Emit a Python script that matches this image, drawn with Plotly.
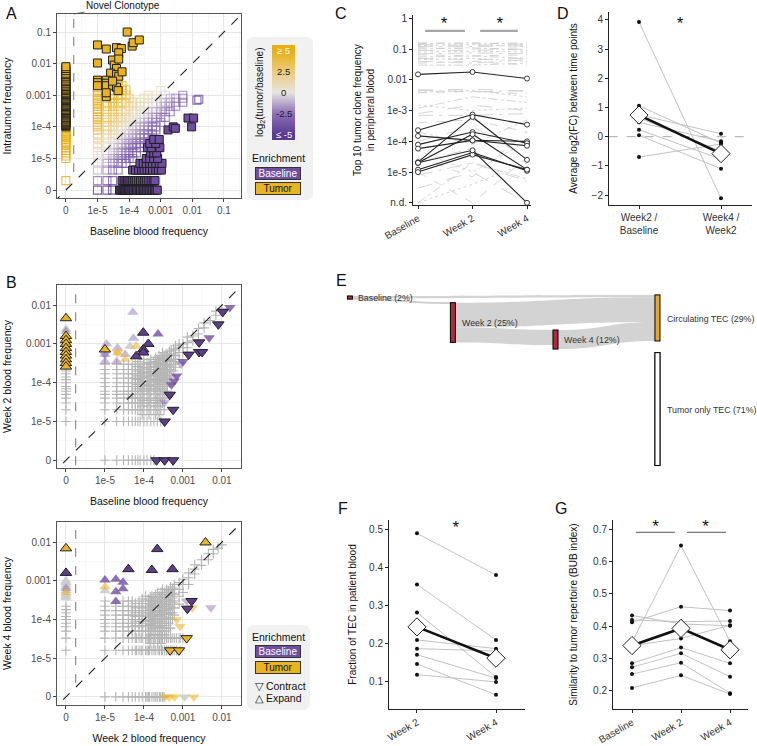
import numpy as np
import plotly.graph_objects as go

W, H = 757, 746
FONT = "Liberation Sans, Arial, Helvetica, sans-serif"
GOLD = "#E9B321"
PURPLE = "#6F4DA0"
RED = "#B22B3D"
ORANGE = "#E6A82A"
ZERO_POS = 1e-6            # where a frequency of 0 / n.d. is drawn on the log axes
NOVEL_CUT = 10 ** -5.75    # novel-clonotype threshold line

# ---------------- Panel A : baseline blood vs intratumor ----------------
A_TICKVALS = [1e-6, 1e-5, 1e-4, 1e-3, 1e-2, 1e-1]
A_TICKTEXT = ["0", "1e-5", "1e-4", "0.001", "0.01", "0.1"]
A_CBAR_TICKS = [5, 2.5, 0, -2.5, -5]
A_CBAR_TEXT = ["≥ 5", "2.5", "0", "-2.5", "≤ -5"]
A_NOVEL_SIG_Y = [1.0e-4, 1.1e-4, 1.2e-4, 1.3e-4, 1.4e-4, 1.5e-4, 1.65e-4, 1.8e-4, 2.0e-4,
                 2.2e-4, 2.4e-4, 2.6e-4, 2.8e-4, 3.0e-4, 3.3e-4, 3.6e-4, 4.0e-4, 4.4e-4,
                 4.8e-4, 5.2e-4, 5.7e-4, 6.2e-4, 6.8e-4, 7.4e-4, 8.0e-4, 8.8e-4, 9.6e-4,
                 1.05e-3, 1.15e-3, 1.25e-3, 1.4e-3, 1.55e-3, 1.7e-3, 1.9e-3, 2.1e-3, 2.4e-3,
                 2.7e-3, 3.0e-3, 3.5e-3, 4.0e-3, 4.5e-3, 5.0e-3, 6.0e-3, 7.0e-3, 8.0e-3]
A_OPEN_NOVEL_Y = [2e-6, 1.0e-5, 1.2e-5, 1.5e-5, 1.8e-5, 2.2e-5, 2.6e-5, 3.0e-5, 3.5e-5, 4.0e-5,
                  4.5e-5, 5.0e-5, 5.5e-5, 6.0e-5, 6.5e-5, 7.0e-5, 8.0e-5, 9.0e-5]
A_TUMOR_SIG = [(1.0e-5, 0.039), (1.9e-5, 0.029), (4.0e-5, 0.032), (5.7e-5, 0.030), (8.7e-5, 0.10),
               (1.25e-4, 0.036), (1.35e-4, 0.046), (2.1e-4, 0.056), (4.7e-5, 0.022), (3.0e-5, 0.013),
               (3.4e-5, 0.009), (1.0e-5, 0.0105), (4.7e-5, 0.014), (4.0e-5, 0.007), (2.6e-5, 0.005),
               (4.0e-5, 0.0045), (4.7e-5, 0.004), (1.9e-5, 0.003), (1.9e-5, 0.0024), (1.9e-5, 0.002),
               (3.0e-5, 0.002), (4.0e-5, 0.0018), (4.5e-5, 0.0014), (1.9e-5, 0.0009), (1.9e-5, 0.0012),
               (1.0e-5, 0.003), (1.0e-5, 0.0025), (1.0e-5, 0.002), (3.0e-5, 0.0028), (6.0e-5, 0.0055)]
A_BASE_SIG_ROWS = [
    (0, [5e-5, 5.5e-5, 6e-5, 6.5e-5, 7e-5, 7.5e-5, 8e-5, 8.7e-5, 9.5e-5, 1.05e-4, 1.15e-4, 1.25e-4,
         1.4e-4, 1.55e-4, 1.7e-4, 1.9e-4, 2.1e-4, 2.3e-4, 2.6e-4, 2.9e-4, 3.2e-4, 3.6e-4, 4e-4,
         4.5e-4, 5e-4, 5.6e-4, 6.3e-4, 7e-4, 7.8e-4]),
    (2e-6, [6e-5, 7e-5, 8e-5, 9e-5, 1e-4, 1.15e-4, 1.3e-4, 1.5e-4, 1.7e-4, 2e-4, 2.3e-4, 2.7e-4,
            3.1e-4, 3.6e-4, 4.2e-4, 5e-4, 5.8e-4, 6.6e-4]),
    (4.3e-6, [1.3e-4, 1.6e-4, 2e-4, 2.5e-4, 3e-4, 3.7e-4, 4.5e-4, 5.5e-4, 7e-4, 8.5e-4, 1.05e-3]),
    (7e-6, [2.2e-4, 2.8e-4, 3.5e-4, 4.5e-4, 5.5e-4, 7e-4, 9e-4, 1.1e-3]),
    (1e-5, [3.5e-4, 4.5e-4, 6e-4, 8e-4]),
    (1.5e-5, [4.7e-4, 6e-4, 7.5e-4]),
    (2.2e-5, [3.8e-4, 5e-4, 9.4e-4]),
    (3e-5, [4.5e-4, 7e-4]),
]
A_BASE_SIG_PTS = [(6e-4, 4e-5), (9e-4, 4e-5), (1.7e-3, 8e-5), (2.5e-3, 1e-4), (2.9e-3, 9e-5),
                  (7.3e-3, 1.9e-4), (1.1e-2, 1.9e-4), (9.5e-3, 1e-4)]
A_OPEN_COLS = [
    (1e-5, [0, 2e-6, 4.3e-6, 7e-6, 1e-5, 1.5e-5, 2.2e-5, 3e-5, 4.5e-5, 6e-5, 8e-5, 1e-4, 1.2e-4,
            1.4e-4, 1.7e-4, 2e-4, 2.5e-4, 3e-4, 3.7e-4, 4.5e-4, 5.2e-4, 6e-4, 7e-4, 8e-4, 1e-3,
            1.2e-3, 1.4e-3, 1.7e-3]),
    (2e-5, [0, 2e-6, 4.3e-6, 7e-6, 1e-5, 1.5e-5, 2.2e-5, 3e-5, 4.5e-5, 6e-5, 8e-5, 1e-4, 1.4e-4,
            2e-4, 3e-4, 4.5e-4, 6e-4]),
    (3e-5, [0, 2e-6, 4.3e-6, 7e-6, 1e-5, 1.5e-5, 2.2e-5, 3e-5, 4.5e-5, 6e-5, 8e-5, 1e-4, 1.4e-4,
            2e-4, 3e-4, 4.5e-4, 6e-4, 8e-4, 1e-3, 1.4e-3]),
    (4.5e-5, [4.3e-6, 7e-6, 1e-5, 1.5e-5, 2.2e-5, 3e-5, 4.5e-5, 6e-5, 8e-5, 1e-4, 1.4e-4, 2e-4,
              3e-4, 4.5e-4, 6e-4, 8e-4, 1e-3, 2e-3, 3e-3]),
    (6e-5, [7e-6, 1e-5, 1.5e-5, 2.2e-5, 3e-5, 4.5e-5, 6e-5, 8e-5, 1e-4, 1.4e-4, 2e-4, 3e-4, 6e-4,
            1e-3, 1.4e-3, 2e-3]),
    (8e-5, [7e-6, 1e-5, 1.5e-5, 2.2e-5, 3e-5, 4.5e-5, 6e-5, 8e-5, 1e-4, 1.4e-4, 2e-4, 3e-4, 6e-4,
            1e-3, 1.5e-3]),
    (1e-4, [1e-5, 1.5e-5, 2.2e-5, 3e-5, 4.5e-5, 6e-5, 8e-5, 1e-4, 1.4e-4, 2e-4, 4.5e-4, 8e-4]),
    (1.3e-4, [1e-5, 1.5e-5, 2.2e-5, 3e-5, 4.5e-5, 6e-5, 8e-5, 1e-4, 1.4e-4, 2e-4, 3e-4, 6e-4]),
    (1.7e-4, [1.5e-5, 2.2e-5, 3e-5, 4.5e-5, 6e-5, 8e-5, 1e-4, 1.4e-4, 2e-4, 3e-4, 4.5e-4]),
    (2.2e-4, [2.2e-5, 3e-5, 4.5e-5, 6e-5, 8e-5, 1e-4, 1.4e-4, 2e-4, 3e-4, 4.5e-4, 6e-4]),
    (3e-4, [3e-5, 4.5e-5, 6e-5, 8e-5, 1e-4, 1.4e-4, 2e-4, 3e-4, 4.5e-4, 8e-4]),
    (4e-4, [4.5e-5, 6e-5, 8e-5, 1e-4, 1.4e-4, 2e-4, 3e-4, 6e-4, 1e-3]),
    (5.5e-4, [6e-5, 8e-5, 1e-4, 1.4e-4, 2e-4, 3e-4, 4.5e-4, 8e-4]),
    (7e-4, [8e-5, 1e-4, 1.4e-4, 2e-4, 3e-4, 6e-4, 1e-3]),
    (1e-3, [1.4e-4, 2e-4, 3e-4, 4.5e-4, 6e-4, 1.4e-3]),
    (1.4e-3, [2e-4, 3e-4, 4.5e-4, 6e-4, 1e-3]),
    (2e-3, [3e-4, 4.5e-4, 6e-4, 8e-4]),
    (3e-3, [4.5e-4, 6e-4, 8e-4]),
    (5e-3, [6e-4, 8e-4, 1e-3]),
    (1.4e-2, [7e-4]),
    (1.6e-2, [7.5e-4]),
]

# ---------------- Panel B : blood-to-blood comparisons ----------------
B_TICKVALS = [1e-6, 1e-5, 1e-4, 1e-3, 1e-2]
B_TICKTEXT = ["0", "1e-5", "1e-4", "0.001", "0.01"]
B1_GREY_COLS = [
    (0, [1e-5, 2e-5, 3e-5, 4e-5, 5e-5, 6e-5, 7e-5, 8e-5, 1e-4, 1.2e-4, 1.4e-4, 1.7e-4, 2e-4]),
    (1e-5, [0, 1e-5, 2e-5, 3e-5, 4e-5, 5e-5, 6e-5, 8e-5, 1e-4, 1.3e-4, 1.7e-4, 2.2e-4, 3e-4]),
    (2e-5, [0, 1e-5, 2e-5, 3e-5, 4e-5, 5e-5, 6e-5, 8e-5, 1e-4, 1.3e-4, 1.7e-4, 2.2e-4, 3e-4]),
    (3e-5, [0, 1e-5, 2e-5, 3e-5, 4e-5, 5e-5, 6e-5, 8e-5, 1e-4, 1.3e-4, 1.7e-4, 2.2e-4, 3e-4]),
    (4e-5, [0, 1e-5, 2e-5, 3e-5, 4e-5, 5e-5, 6e-5, 8e-5, 1e-4, 1.3e-4, 1.7e-4, 2.2e-4, 3e-4]),
    (5e-5, [0, 1e-5, 2e-5, 3e-5, 4e-5, 5e-5, 6e-5, 8e-5, 1e-4, 1.3e-4, 1.7e-4, 2.2e-4, 3e-4]),
    (6e-5, [0, 1e-5, 2e-5, 3e-5, 4e-5, 6e-5, 8e-5, 1e-4, 1.3e-4, 1.7e-4, 2.2e-4, 3e-4]),
    (7e-5, [0, 1e-5, 2e-5, 3e-5, 5e-5, 7e-5, 9e-5, 1.2e-4, 1.5e-4, 2e-4, 2.6e-4, 3.5e-4]),
    (8e-5, [0, 1e-5, 2e-5, 3e-5, 4e-5, 6e-5, 8e-5, 1e-4, 1.3e-4, 1.7e-4, 2.2e-4, 3e-4]),
    (9e-5, [1.5e-5, 2.5e-5, 3.5e-5, 5e-5, 7e-5, 9e-5, 1.1e-4, 1.4e-4, 1.9e-4, 2.5e-4]),
    (1e-4, [0, 1e-5, 2e-5, 3e-5, 4e-5, 6e-5, 8e-5, 1e-4, 1.3e-4, 1.7e-4, 2.2e-4, 3e-4, 4e-4]),
    (1.2e-4, [0, 1e-5, 2e-5, 3e-5, 5e-5, 7e-5, 9e-5, 1.1e-4, 1.4e-4, 1.8e-4, 2.4e-4, 3.2e-4]),
    (1.35e-4, [1.5e-5, 2.5e-5, 3.5e-5, 5e-5, 6.5e-5, 8.5e-5, 1.1e-4, 1.5e-4, 1.9e-4, 2.5e-4, 3.3e-4]),
    (1.5e-4, [0, 1e-5, 2e-5, 3e-5, 4e-5, 6e-5, 8e-5, 1e-4, 1.3e-4, 1.7e-4, 2.2e-4, 3e-4, 4e-4]),
    (1.8e-4, [0, 1e-5, 2e-5, 3e-5, 5e-5, 7e-5, 9e-5, 1.2e-4, 1.6e-4, 2e-4, 2.6e-4, 3.5e-4]),
    (2.0e-4, [1.5e-5, 2.5e-5, 3.5e-5, 5e-5, 7e-5, 9e-5, 1.15e-4, 1.5e-4, 1.9e-4, 2.5e-4, 3.3e-4, 4.5e-4]),
    (2.2e-4, [1e-5, 2e-5, 3e-5, 4e-5, 6e-5, 8e-5, 1e-4, 1.3e-4, 1.7e-4, 2.2e-4, 3e-4, 4e-4]),
    (2.45e-4, [1.5e-5, 2.5e-5, 4e-5, 6e-5, 8e-5, 1.1e-4, 1.5e-4, 2e-4, 2.8e-4, 3.8e-4, 5e-4]),
    (2.7e-4, [1e-5, 2e-5, 3e-5, 5e-5, 7e-5, 1e-4, 1.4e-4, 1.8e-4, 2.4e-4, 3.2e-4, 4.5e-4]),
    (3e-4, [3e-5, 5e-5, 7e-5, 1e-4, 1.3e-4, 1.7e-4, 2.3e-4, 3.2e-4, 4.3e-4, 6e-4]),
    (3.3e-4, [2e-5, 4e-5, 6e-5, 9e-5, 1.2e-4, 1.6e-4, 2.2e-4, 3e-4, 4e-4, 5e-4]),
    (3.7e-4, [5e-5, 8e-5, 1.1e-4, 1.5e-4, 2e-4, 2.8e-4, 3.8e-4, 5.5e-4]),
    (4e-4, [6e-5, 9e-5, 1.3e-4, 1.8e-4, 2.5e-4, 3.5e-4, 5e-4]),
    (4.5e-4, [1e-4, 1.4e-4, 2e-4, 2.7e-4, 3.7e-4, 5e-4, 6.5e-4]),
    (5e-4, [1.5e-4, 2.2e-4, 3e-4, 4e-4, 5.5e-4, 7e-4]),
    (5.8e-4, [2e-4, 3e-4, 4e-4, 5.5e-4, 7.5e-4]),
    (6.5e-4, [2.5e-4, 3.5e-4, 5e-4, 7e-4, 9e-4]),
    (8e-4, [4e-4, 6e-4, 8e-4, 1e-3]),
    (1e-3, [6e-4, 8e-4, 1e-3]),
    (1.3e-3, [8e-4, 1.1e-3, 1.5e-3]),
    (1.8e-3, [1.2e-3, 1.6e-3]),
    (2.5e-3, [1.8e-3, 2.5e-3]),
    (3.5e-3, [2.6e-3, 3.5e-3]),
    (5e-3, [4e-3]),
    (7e-3, [5.5e-3, 7e-3]),
    (1e-2, [8e-3]),
]
B1_UP = [("Ts", 0, 4.6e-3), ("N", 0, 2.4e-3), ("Bl", 0, 2.1e-3), ("Ts", 0, 1.6e-3), ("Ts", 0, 1.25e-3),
         ("Ts", 0, 1.0e-3), ("Ts", 0, 7.8e-4), ("Ts", 0, 6.2e-4), ("Ts", 0, 5.0e-4), ("Ts", 0, 4.0e-4),
         ("Ts", 0, 3.2e-4), ("Ts", 0, 2.6e-4),
         ("Bl", 5.2e-5, 6.6e-3), ("Bs", 9.6e-5, 1.95e-3), ("B", 2.3e-4, 1.8e-3), ("Bs", 1.3e-4, 1.0e-3),
         ("Bs", 9.6e-5, 7.2e-4), ("Bs", 9.6e-5, 6.0e-4), ("Bs", 6.3e-5, 4.8e-4), ("Bl", 5.4e-5, 1.4e-3),
         ("Bl", 1.1e-5, 1.0e-3), ("Ts", 1e-5, 7.2e-4), ("Bl", 1e-5, 5.3e-4), ("Bl", 1e-5, 3.5e-4),
         ("Bl", 2.1e-5, 7.9e-4), ("T", 2.1e-5, 5.9e-4), ("Bl", 3.3e-5, 5.3e-4), ("T", 3.3e-5, 4.0e-4),
         ("Bl", 2.0e-5, 3.5e-4), ("N", 4.4e-5, 8.7e-4), ("T", 6.3e-5, 8.7e-4)]
B1_DOWN = [("Bs", 1.05e-2, 6.7e-3), ("B", 1.6e-2, 8.7e-3), ("Bs", 8.1e-3, 3.2e-3), ("B", 4.7e-3, 1.45e-3),
           ("Bs", 2.6e-3, 1.1e-3), ("Bs", 2.6e-3, 6.2e-4), ("Bs", 3.1e-3, 6.2e-4), ("Bs", 1.4e-3, 5.3e-4),
           ("B", 1.0e-3, 3.5e-4), ("Bl", 9e-4, 3e-4), ("B", 6.9e-4, 1.5e-4), ("B", 5.1e-4, 8.9e-5),
           ("B", 6e-4, 1.1e-4), ("Bs", 4.6e-4, 4.9e-5), ("Bl", 3.4e-4, 3.2e-5), ("Bs", 5.6e-4, 2e-5),
           ("Bs", 3.4e-4, 1e-5), ("Bs", 2.1e-4, 0), ("Bs", 3.4e-4, 0), ("Bs", 5.6e-4, 0),
           ("T", 2.1e-5, 5.9e-4), ("Bl", 1e-5, 5.3e-4)]
B2_GREY_COLS = [
    (0, [1.6e-5, 3.3e-5, 5e-5, 6.5e-5, 8e-5, 1e-4, 1.2e-4, 1.5e-4, 1.8e-4, 2.2e-4]),
    (1e-5, [0, 1.6e-5, 3.3e-5, 5e-5, 6.5e-5, 8e-5, 1e-4, 1.3e-4, 1.7e-4, 2.2e-4, 3e-4]),
    (1.9e-5, [0, 1.6e-5, 3.3e-5, 5e-5, 6.5e-5, 8e-5, 1e-4, 1.3e-4, 1.7e-4, 2.2e-4]),
    (2.9e-5, [0, 1.6e-5, 3.3e-5, 5e-5, 6.5e-5, 8e-5, 1e-4, 1.3e-4, 1.7e-4, 2.2e-4, 3e-4]),
    (4e-5, [0, 1.6e-5, 3.3e-5, 5e-5, 6.5e-5, 8e-5, 1e-4, 1.3e-4, 1.7e-4, 2.2e-4, 3e-4]),
    (5e-5, [0, 1.6e-5, 3.3e-5, 5e-5, 6.5e-5, 8e-5, 1e-4, 1.3e-4, 1.7e-4, 2.2e-4, 3e-4]),
    (6e-5, [0, 1.6e-5, 3.3e-5, 5e-5, 7e-5, 9e-5, 1.2e-4, 1.5e-4, 2e-4, 2.6e-4]),
    (7.5e-5, [0, 1.6e-5, 3.3e-5, 5e-5, 6.5e-5, 8e-5, 1e-4, 1.3e-4, 1.7e-4, 2.2e-4, 3e-4]),
    (9e-5, [0, 1.6e-5, 3.3e-5, 5e-5, 7e-5, 9e-5, 1.2e-4, 1.5e-4, 2e-4, 2.6e-4, 3.4e-4]),
    (1.1e-4, [0, 1.6e-5, 3.3e-5, 5e-5, 6.5e-5, 8e-5, 1e-4, 1.3e-4, 1.7e-4, 2.2e-4, 3e-4, 4e-4]),
    (1.3e-4, [0, 1.6e-5, 3.3e-5, 5e-5, 7e-5, 9e-5, 1.2e-4, 1.5e-4, 2e-4, 2.6e-4, 3.4e-4]),
    (1.45e-4, [2.4e-5, 4e-5, 5.7e-5, 7.5e-5, 9.5e-5, 1.15e-4, 1.4e-4, 1.8e-4, 2.4e-4, 3.1e-4, 3.9e-4]),
    (1.6e-4, [0, 1.6e-5, 3.3e-5, 5e-5, 6.5e-5, 8e-5, 1e-4, 1.3e-4, 1.7e-4, 2.2e-4, 3e-4, 4e-4]),
    (1.8e-4, [2.4e-5, 4e-5, 6e-5, 8e-5, 1.05e-4, 1.35e-4, 1.7e-4, 2.2e-4, 2.9e-4, 3.7e-4]),
    (2e-4, [0, 1.6e-5, 3.3e-5, 5e-5, 7e-5, 9e-5, 1.2e-4, 1.5e-4, 2e-4, 2.6e-4, 3.4e-4, 4.5e-4]),
    (2.25e-4, [2.4e-5, 4e-5, 6e-5, 8e-5, 1.05e-4, 1.35e-4, 1.7e-4, 2.2e-4, 2.9e-4, 3.7e-4, 5e-4]),
    (2.5e-4, [0, 1.6e-5, 3.3e-5, 5e-5, 6.5e-5, 8e-5, 1e-4, 1.3e-4, 1.7e-4, 2.2e-4, 3e-4, 4e-4]),
    (2.75e-4, [2.4e-5, 4e-5, 6e-5, 8e-5, 1.05e-4, 1.35e-4, 1.7e-4, 2.2e-4, 2.9e-4, 3.7e-4, 5e-4]),
    (3e-4, [0, 1.6e-5, 3.3e-5, 5e-5, 7e-5, 9e-5, 1.2e-4, 1.5e-4, 2e-4, 2.6e-4, 3.4e-4, 4.5e-4, 6e-4]),
    (3.4e-4, [4e-5, 6e-5, 8e-5, 1.05e-4, 1.35e-4, 1.7e-4, 2.2e-4, 2.9e-4, 3.7e-4, 5e-4]),
    (3.8e-4, [1.6e-5, 3.3e-5, 5e-5, 7e-5, 1e-4, 1.4e-4, 1.9e-4, 2.5e-4, 3.3e-4, 4.5e-4, 6e-4]),
    (4.3e-4, [6e-5, 8e-5, 1.1e-4, 1.4e-4, 1.8e-4, 2.4e-4, 3.2e-4, 4.2e-4, 5.5e-4]),
    (4.8e-4, [1.6e-5, 3.3e-5, 6e-5, 1e-4, 1.5e-4, 2.2e-4, 3e-4, 4e-4, 5.5e-4, 7e-4]),
    (5.4e-4, [1e-4, 1.5e-4, 2e-4, 2.7e-4, 3.6e-4, 4.8e-4, 6.5e-4]),
    (6e-4, [1.6e-5, 3.3e-5, 1.3e-4, 2e-4, 3e-4, 4.5e-4, 6e-4, 8e-4]),
    (8e-4, [3.3e-5, 2.5e-4, 4e-4, 6e-4, 9e-4]),
    (1e-3, [3.3e-5, 5e-4, 8e-4, 1.1e-3]),
    (1.4e-3, [8e-4, 1.2e-3, 1.6e-3]),
    (2e-3, [1.5e-3, 2e-3, 2.6e-3]),
    (3e-3, [2.5e-3, 3.5e-3]),
    (4.5e-3, [3.5e-3, 5e-3]),
    (6e-3, [5e-3, 6.5e-3]),
    (8e-3, [7e-3]),
    (1e-2, [8.5e-3]),
]
B2_GREY_ROWS = [
    (0, [1.2e-4, 1.4e-4, 1.8e-4, 2.2e-4, 2.7e-4, 3.3e-4]),
    (1.6e-5, [6.5e-5, 8.5e-5, 1.2e-4, 1.4e-4, 1.8e-4, 2.3e-4, 2.8e-4, 3.4e-4, 4.2e-4, 5.3e-4, 6.8e-4, 8.5e-4]),
    (3.3e-5, [6.5e-5, 8.5e-5, 1.2e-4, 1.4e-4, 1.8e-4, 2.3e-4, 2.8e-4, 3.4e-4, 4.2e-4, 5.3e-4, 6.8e-4, 8.5e-4]),
]
B2_UP = [("Ts", 0, 6.9e-3), ("Bs", 0, 1.6e-3), ("N", 0, 1.0e-3), ("N", 0, 9e-4), ("N", 0, 8e-4),
         ("N", 0, 7e-4), ("Bl", 0, 6.3e-4), ("N", 0, 5.6e-4), ("T", 0, 5e-4), ("N", 0, 4.5e-4),
         ("N", 0, 4e-4), ("N", 0, 3.6e-4),
         ("B", 1e-5, 1.05e-3), ("T", 1e-5, 7e-4), ("N", 1e-5, 5.5e-4), ("B", 1.9e-5, 1.1e-3),
         ("B", 2.9e-5, 9.2e-4), ("B", 2.9e-5, 6.2e-4), ("B", 1.9e-5, 5.2e-4), ("B", 1.9e-5, 2.9e-4),
         ("Bs", 4e-5, 2e-3), ("Bs", 1.6e-4, 1.9e-3), ("Bs", 2.2e-4, 6.6e-3), ("Bs", 5.4e-4, 2e-3),
         ("Ts", 3.8e-3, 9.8e-3)]
B2_DOWN = [("Bl", 1.25e-3, 3e-4), ("Bs", 1.67e-3, 3e-4), ("Bs", 1.3e-3, 1.9e-4), ("T", 1.75e-3, 2e-4),
           ("Bl", 5.2e-3, 2e-4), ("T", 6.9e-4, 9.8e-5), ("T", 8.4e-4, 6.6e-5), ("Ts", 1.25e-3, 3.3e-5),
           ("Ts", 4.7e-4, 1.6e-5), ("Ts", 7.9e-4, 1.6e-5), ("T", 3.5e-4, 0), ("T", 4.5e-4, 0),
           ("T", 6.1e-4, 0), ("N", 1.1e-3, 0), ("T", 1.9e-3, 0)]

# ---------------- Panel C : top-10 tumour clones in blood ----------------
C_TIMEPOINTS = ["Baseline", "Week 2", "Week 4"]
C_TICKVALS = [1e-6, 1e-5, 1e-4, 1e-3, 1e-2, 1e-1, 1]
C_TICKTEXT = ["n.d.", "1e-5", "1e-4", "1e-3", "0.01", "0.1", "1"]
C_HIGHLIGHT = [[1.5e-2, 1.8e-2, 1.1e-2], [2.3e-4, 7.4e-4, 3.5e-4], [2.1e-5, 6.2e-4, 2.5e-5],
               [1.5e-4, 1.07e-4, 1.0e-4], [7.8e-5, 2.0e-4, 8.7e-5], [5.8e-5, 1.07e-4, 7.2e-5],
               [2.0e-5, 1.7e-4, 1.2e-5], [1.2e-5, 4.3e-5, 1.1e-5], [1.0e-5, 3.7e-5, 1.2e-5],
               [2.0e-5, 5.1e-5, 0]]
C_OTHER = [[0.16, 0.15, 0.16], [0.15, 0.16, 0.14], [0.14, 0.13, 0.15], [0.13, 0.14, 0.12],
           [0.12, 0.12, 0.13], [0.11, 0.10, 0.11], [0.10, 0.11, 0.09], [0.09, 0.09, 0.10],
           [0.08, 0.085, 0.08], [0.07, 0.075, 0.07], [0.065, 0.06, 0.065], [0.055, 0.06, 0.05],
           [0.05, 0.045, 0.05], [0.045, 0.05, 0.04], [0.04, 0.035, 0.045], [0.035, 0.04, 0.03],
           [0.03, 0.03, 0.035], [0.0045, 0.005, 0.0042], [0.004, 0.0045, 0.0028],
           [0.0048, 0.004, 0.0045], [0.0038, 0.0042, 0.0035], [0.0012, 0.0028, 0.0018],
           [0.0008, 0.0015, 0.001], [0.0015, 0.001, 0.0012], [0.0007, 0.0007, 0.0008],
           [4e-4, 5e-4, 2e-4], [2e-4, 8e-5, 5e-4], [1e-4, 3e-4, 3e-5], [5e-5, 1e-5, 1e-4],
           [2e-5, 6e-5, 0], [1e-5, 0, 3e-5], [0, 2e-5, 6e-6], [3e-6, 1e-5, 0], [0, 4e-6, 2e-5],
           [8e-6, 2e-5, 5e-6], [3e-5, 7e-6, 2e-4]]

# ---------------- Panel D : average log2 fold change ----------------
D_CATS = ["Week2 /<br>Baseline", "Week4 /<br>Week2"]
D_FIRST = [3.93, 1.06, 0.75, 0.49, 0.24, 0.05, -0.70, 0.65]
D_SECOND = [-2.11, -0.22, 0.10, -0.16, -0.77, -1.10, -0.25, -0.50]
D_MEAN = [0.74, -0.58]

# ---------------- Panel E : Sankey of tumour-enriched clones ----------------
E_LABELS = ["Baseline (2%)", "Week 2 (25%)", "Week 4 (12%)", "Circulating TEC (29%)", "Tumor only TEC (71%)"]
E_SOURCE = [0, 0, 1, 1, 2]
E_TARGET = [3, 1, 3, 2, 3]
E_VALUE = [1.5, 0.5, 15.5, 9.5, 12.0]
E_TUMOR_ONLY = 71.0

# ---------------- Panel F : fraction of TEC in blood ----------------
F_CATS = ["Week 2", "Week 4"]
F_WEEK2 = [0.489, 0.355, 0.282, 0.21, 0.187, 0.171, 0.147, 0.119]
F_WEEK4 = [0.38, 0.21, 0.113, 0.187, 0.181, 0.11, 0.066, 0.10]
F_MEAN = [0.244, 0.162]

# ---------------- Panel G : BUB similarity ----------------
G_CATS = ["Baseline", "Week 2", "Week 4"]
G_BASE = [0.35, 0.433, 0.419, 0.412, 0.34, 0.285, 0.273, 0.252, 0.209]
G_WEEK2 = [0.649, 0.407, 0.414, 0.46, 0.362, 0.334, 0.316, 0.287, 0.248]
G_WEEK4 = [0.353, 0.401, 0.416, 0.448, 0.403, 0.285, 0.244, 0.193, 0.19]
G_MEAN = [0.34, 0.393, 0.327]


# ======================= helpers =======================
def zp(v):
    return v if v > 0 else ZERO_POS


def xdom(a, b):
    return [a / W, b / W]


def ydom(top, bottom):
    return [1 - bottom / H, 1 - top / H]


def log2ratio(x, y):
    if x == 0:
        return 5.0
    if y == 0:
        return -5.0
    return float(np.clip(np.log2(y / x), -5, 5))


def ann(text, px, py, size=10, color="#111", **kw):
    d = dict(text=text, x=px / W, y=1 - py / H, xref="paper", yref="paper", showarrow=False,
             xanchor="center", yanchor="middle",
             font=dict(family=FONT, size=size, color=color))
    d.update(kw)
    return d


def rrect(x0, y0, x1, y1, r):
    def P(x, y):
        return f"{x / W:.5f},{1 - y / H:.5f}"
    return (f"M {P(x0 + r, y0)} L {P(x1 - r, y0)} Q {P(x1, y0)} {P(x1, y0 + r)} "
            f"L {P(x1, y1 - r)} Q {P(x1, y1)} {P(x1 - r, y1)} L {P(x0 + r, y1)} "
            f"Q {P(x0, y1)} {P(x0, y1 - r)} L {P(x0, y0 + r)} Q {P(x0, y0)} {P(x0 + r, y0)} Z")


MINOR_VALS = [10 ** (k + 0.5) for k in range(-7, 0)]


def log_axis(dom, rng, tv, tt, anchor, title, standoff):
    return dict(type="log", domain=dom, range=rng, anchor=anchor, tickmode="array",
                tickvals=tv, ticktext=tt, showgrid=True, gridcolor="#E6E6E6", gridwidth=0.9,
                minor=dict(tickmode="array", tickvals=MINOR_VALS, showgrid=True,
                           gridcolor="#F3F3F3", gridwidth=0.6, ticks=""),
                showline=True, linecolor="#555", linewidth=1, mirror=True, ticks="outside",
                ticklen=3, tickcolor="#444", tickfont=dict(size=10, color="#4D4D4D"),
                zeroline=False, automargin=False,
                title=dict(text=title, font=dict(size=10.5, color="#111"), standoff=standoff))


def plain_axis(dom, rng, anchor, title=None, standoff=10, **kw):
    d = dict(domain=dom, range=rng, anchor=anchor, showline=True, linecolor="#222", linewidth=1,
             ticks="outside", ticklen=3, tickcolor="#222", tickfont=dict(size=10, color="#333"),
             showgrid=False, zeroline=False, automargin=False)
    if title:
        d["title"] = dict(text=title, font=dict(size=10, color="#111"), standoff=standoff)
    d.update(kw)
    return d


STYLE = {
    "Ts": dict(color=GOLD, line=dict(color="#222", width=1)),
    "T": dict(color="rgba(233,179,33,0.55)", line=dict(width=0)),
    "Bs": dict(color="#5E3D8E", line=dict(color="#222", width=1)),
    "B": dict(color="rgba(111,77,160,0.8)", line=dict(width=0)),
    "Bl": dict(color="rgba(111,77,160,0.38)", line=dict(width=0)),
    "N": dict(color="rgba(205,205,205,0.9)", line=dict(width=0)),
}
ORDER = ["N", "Bl", "T", "B", "Bs", "Ts"]

fig = go.Figure()

# ======================= Panel A =======================
ox, oy = [], []
for x, ys in A_OPEN_COLS:
    for y in ys:
        ox.append(x)
        oy.append(y)
for y in A_OPEN_NOVEL_Y:
    ox.append(0)
    oy.append(y)
ocol = [log2ratio(x, y) for x, y in zip(ox, oy)]
CS = [[0.0, "#5A3A91"], [0.054, "#5A3A91"], [0.28, "#8E6FB8"], [0.5, "#E7E4E0"],
      [0.72, "#EBCB7C"], [0.946, "#E8AE12"], [1.0, "#E8AE12"]]
fig.add_trace(go.Scatter(
    x=[zp(v) for v in ox], y=[zp(v) for v in oy], mode="markers", xaxis="x", yaxis="y",
    marker=dict(symbol="square-open", size=8, color=ocol, colorscale=CS, cmin=-5.6, cmax=5.6,
                opacity=0.8, line=dict(width=1.1),
                colorbar=dict(x=272 / W, xanchor="left", y=1 - 92.5 / H, yanchor="middle",
                              len=95, lenmode="pixels", thickness=23, thicknessmode="pixels",
                              xpad=0, ypad=0, outlinewidth=0, showticklabels=False, ticks="")),
    hoverinfo="skip", showlegend=False))

bx, by = [], []
for y, xs in A_BASE_SIG_ROWS:
    for x in xs:
        bx.append(x)
        by.append(y)
for x, y in A_BASE_SIG_PTS:
    bx.append(x)
    by.append(y)
fig.add_trace(go.Scatter(x=[zp(v) for v in bx], y=[zp(v) for v in by], mode="markers",
                         xaxis="x", yaxis="y",
                         marker=dict(symbol="square", size=8, color=PURPLE,
                                     line=dict(color="#1E1E1E", width=1)),
                         hoverinfo="skip", showlegend=False))
fig.add_trace(go.Scatter(x=[ZERO_POS] * len(A_NOVEL_SIG_Y) + [p[0] for p in A_TUMOR_SIG],
                         y=A_NOVEL_SIG_Y + [p[1] for p in A_TUMOR_SIG], mode="markers",
                         xaxis="x", yaxis="y",
                         marker=dict(symbol="square", size=8, color=GOLD,
                                     line=dict(color="#1E1E1E", width=1)),
                         hoverinfo="skip", showlegend=False))


def ref_lines(xa, ya, cut_bottom):
    fig.add_trace(go.Scatter(x=[10 ** -6.4, 1], y=[10 ** -6.4, 1], mode="lines", xaxis=xa, yaxis=ya,
                             line=dict(color="#222", width=1.1, dash="dash"),
                             hoverinfo="skip", showlegend=False))
    fig.add_trace(go.Scatter(x=[NOVEL_CUT, NOVEL_CUT], y=[cut_bottom, 1], mode="lines", xaxis=xa,
                             yaxis=ya, line=dict(color="#777", width=1, dash="dash"),
                             hoverinfo="skip", showlegend=False))


ref_lines("x", "y", 10 ** -5.43)


# ======================= Panel B =======================
def grey_cloud(cols, rows, xa, ya):
    gx, gy = [], []
    for x, ys in cols:
        for y in ys:
            gx.append(zp(x))
            gy.append(zp(y))
    for y, xs in rows:
        for x in xs:
            gx.append(zp(x))
            gy.append(zp(y))
    fig.add_trace(go.Scatter(x=gx, y=gy, mode="markers", xaxis=xa, yaxis=ya,
                             marker=dict(symbol="cross-thin", size=7, color="#B5B5B5",
                                         line=dict(color="#B5B5B5", width=1.1)),
                             hoverinfo="skip", showlegend=False))


def triangles(points, symbol, xa, ya):
    for cat in ORDER:
        sel = [p for p in points if p[0] == cat]
        if not sel:
            continue
        st = STYLE[cat]
        fig.add_trace(go.Scatter(x=[zp(p[1]) for p in sel], y=[zp(p[2]) for p in sel],
                                 mode="markers", xaxis=xa, yaxis=ya,
                                 marker=dict(symbol=symbol, size=10, color=st["color"], line=st["line"]),
                                 hoverinfo="skip", showlegend=False))


grey_cloud(B1_GREY_COLS, [], "x2", "y2")
ref_lines("x2", "y2", 10 ** -6.13)
triangles(B1_UP, "triangle-up", "x2", "y2")
triangles(B1_DOWN, "triangle-down", "x2", "y2")

grey_cloud(B2_GREY_COLS, B2_GREY_ROWS, "x3", "y3")
ref_lines("x3", "y3", 10 ** -5.64)
triangles(B2_UP, "triangle-up", "x3", "y3")
triangles(B2_DOWN, "triangle-down", "x3", "y3")

# ======================= Panel C =======================
DASHES = ["dash", "dashdot", "longdash", "dot", "longdashdot"]
for i, row in enumerate(C_OTHER):
    fig.add_trace(go.Scatter(x=[0, 1, 2], y=[zp(v) for v in row], mode="lines", xaxis="x4", yaxis="y4",
                             line=dict(color="#CFCFCF", width=0.9, dash=DASHES[i % len(DASHES)]),
                             hoverinfo="skip", showlegend=False))
hx, hy = [], []
for row in C_HIGHLIGHT:
    hx += [0, 1, 2, None]
    hy += [zp(v) for v in row] + [None]
fig.add_trace(go.Scatter(x=hx, y=hy, mode="lines+markers", xaxis="x4", yaxis="y4",
                         line=dict(color="#222", width=1.1),
                         marker=dict(symbol="circle", size=5, color="white",
                                     line=dict(color="#222", width=0.9)),
                         hoverinfo="skip", showlegend=False))
for a, b in [(0.13, 0.86), (1.14, 1.83)]:
    fig.add_trace(go.Scatter(x=[a, b], y=[0.39, 0.39], mode="lines", xaxis="x4", yaxis="y4",
                             line=dict(color="#A6A6A6", width=2.2), hoverinfo="skip", showlegend=False))
fig.add_trace(go.Scatter(x=[0.48, 1.5], y=[0.62, 0.62], mode="text", text=["*", "*"], xaxis="x4",
                         yaxis="y4", textfont=dict(size=17, color="#111", family=FONT),
                         hoverinfo="skip", showlegend=False))


# ======================= Panels D, F, G (paired lines) =======================
def paired(xa, ya, cols, means):
    px_, py_ = [], []
    n = len(cols[0])
    for i in range(n):
        for k in range(len(cols)):
            px_.append(k)
            py_.append(cols[k][i])
        px_.append(None)
        py_.append(None)
    fig.add_trace(go.Scatter(x=px_, y=py_, mode="lines+markers", xaxis=xa, yaxis=ya,
                             line=dict(color="#C2C2C2", width=1),
                             marker=dict(size=4, color="#111"), hoverinfo="skip", showlegend=False))
    fig.add_trace(go.Scatter(x=list(range(len(means))), y=means, mode="lines+markers", xaxis=xa, yaxis=ya,
                             line=dict(color="#111", width=2.6),
                             marker=dict(symbol="diamond", size=14, color="white",
                                         line=dict(color="#222", width=1)),
                             hoverinfo="skip", showlegend=False))


fig.add_trace(go.Scatter(x=[-0.37, 1.38], y=[0, 0], mode="lines", xaxis="x5", yaxis="y5",
                         line=dict(color="#AAAAAA", width=1, dash="dash"), hoverinfo="skip",
                         showlegend=False))
paired("x5", "y5", [D_FIRST, D_SECOND], D_MEAN)
fig.add_trace(go.Scatter(x=[0.5], y=[3.85], mode="text", text=["*"], xaxis="x5", yaxis="y5",
                         textfont=dict(size=17, color="#111", family=FONT), hoverinfo="skip",
                         showlegend=False))

paired("x6", "y6", [F_WEEK2, F_WEEK4], F_MEAN)
fig.add_trace(go.Scatter(x=[0.49], y=[0.5], mode="text", text=["*"], xaxis="x6", yaxis="y6",
                         textfont=dict(size=17, color="#111", family=FONT), hoverinfo="skip",
                         showlegend=False))

paired("x7", "y7", [G_BASE, G_WEEK2, G_WEEK4], G_MEAN)
for a, b in [(0.08, 0.88), (1.12, 1.92)]:
    fig.add_trace(go.Scatter(x=[a, b], y=[0.69, 0.69], mode="lines", xaxis="x7", yaxis="y7",
                             line=dict(color="#555", width=1), hoverinfo="skip", showlegend=False))
fig.add_trace(go.Scatter(x=[0.48, 1.5], y=[0.705, 0.705], mode="text", text=["*", "*"], xaxis="x7",
                         yaxis="y7", textfont=dict(size=17, color="#111", family=FONT),
                         hoverinfo="skip", showlegend=False))

# ======================= Panel E (Sankey) =======================
# node 5 is a helper that gives the "Tumor only" node its size; it sits exactly on top of node 4.
fig.add_trace(go.Sankey(
    domain=dict(x=xdom(340, 670), y=ydom(295, 465)),
    arrangement="fixed",
    node=dict(label=[""] * 6, pad=11, thickness=5,
              x=[0.03, 0.342, 0.653, 0.962, 0.962, 0.962],
              y=[0.015, 0.162, 0.262, 0.135, 0.671, 0.671],
              color=[RED, RED, RED, ORANGE, "#FFFFFF", "#FFFFFF"],
              line=dict(color=[RED, RED, RED, ORANGE, "#9A9A9A", "#9A9A9A"],
                        width=[0.5, 0.5, 0.5, 0.5, 1, 1]),
              hoverinfo="skip"),
    link=dict(source=E_SOURCE + [5], target=E_TARGET + [4], value=E_VALUE + [E_TUMOR_ONLY],
              color=["rgba(200,200,200,0.8)"] * len(E_VALUE) + ["rgba(255,255,255,0)"], hoverinfo="skip"),
))

# ======================= layout =======================
annotations = [
    ann("A", 11, 13, 16), ann("B", 11, 283, 16), ann("C", 341, 13, 16), ann("D", 563, 13, 16),
    ann("E", 341, 281, 16), ann("F", 343, 508, 16), ann("G", 561, 508, 16),
    dict(text="Novel Clonotype", x=-5.75, y=-0.43, xref="x", yref="y", ax=49, ay=-9,
         axref="pixel", ayref="pixel", showarrow=True, arrowhead=0, arrowwidth=0.8, arrowcolor="#444",
         font=dict(family=FONT, size=10, color="#111"), xanchor="center", yanchor="middle"),
    ann("log<sub>2</sub>(tumor/baseline)", 260, 92, 10, textangle=-90),
    ann("Enrichment", 278, 158, 10.5),
    ann("Baseline", 278, 174, 10, color="white", bgcolor=PURPLE, bordercolor="#333", borderwidth=1,
        borderpad=0, width=44, height=11),
    ann("Tumor", 278, 188.5, 10, bgcolor=GOLD, bordercolor="#333", borderwidth=1, borderpad=0,
        width=44, height=11),
    ann("Enrichment", 278, 637, 10.5),
    ann("Baseline", 278, 651.5, 10, color="white", bgcolor=PURPLE, bordercolor="#333", borderwidth=1,
        borderpad=0, width=44, height=11),
    ann("Tumor", 278, 667, 10, bgcolor=GOLD, bordercolor="#333", borderwidth=1, borderpad=0,
        width=44, height=11),
    ann("▽ Contract", 253, 686, 10.5, xanchor="left"),
    ann("△ Expand", 253, 698, 10.5, xanchor="left"),
]
# colour-bar labels, placed along the bar at their value positions
for val, txt in zip(A_CBAR_TICKS, A_CBAR_TEXT):
    yy = 92.5 - val / 5.6 * 47.5
    col = "white" if abs(val) == 5 else "#222"
    annotations.append(ann(txt, 283.5, yy, 9.5, color=col))
for lbl, (lx, ly) in zip(E_LABELS, [(356, 297.5), (460, 323), (562, 340), (665, 319), (665, 410)]):
    annotations.append(ann(lbl, lx, ly, 8.8, color="#333", xanchor="left"))

shapes = [
    dict(type="path", path=rrect(247, 37, 313, 200, 7), xref="paper", yref="paper",
         fillcolor="#F1F1F1", line=dict(width=0), layer="below"),
    dict(type="path", path=rrect(247, 625, 310, 710, 7), xref="paper", yref="paper",
         fillcolor="#F1F1F1", line=dict(width=0), layer="below"),
]

fig.update_layout(
    width=W, height=H, margin=dict(l=0, r=0, t=0, b=0, pad=0, autoexpand=False),
    paper_bgcolor="white", plot_bgcolor="white",
    font=dict(family=FONT, color="#111"), showlegend=False,
    xaxis=log_axis(xdom(57, 241), [-6.28, -0.46], A_TICKVALS, A_TICKTEXT, "y", "Baseline blood frequency", 12),
    yaxis=log_axis(ydom(14, 198), [-6.25, -0.43], A_TICKVALS, A_TICKTEXT, "x", "Intratumor frequency", 12),
    xaxis2=log_axis(xdom(57, 241), [-6.23, -1.51], B_TICKVALS, B_TICKTEXT, "y2", "Baseline blood frequency", 12),
    yaxis2=log_axis(ydom(285, 468), [-6.2, -1.48], B_TICKVALS, B_TICKTEXT, "x2", "Week 2 blood frequency", 12),
    xaxis3=log_axis(xdom(57, 241), [-6.23, -1.51], B_TICKVALS, B_TICKTEXT, "y3", "Week 2 blood frequency", 12),
    yaxis3=log_axis(ydom(522, 705), [-6.21, -1.48], B_TICKVALS, B_TICKTEXT, "x3", "Week 4 blood frequency", 12),
    xaxis4=plain_axis(xdom(413, 531), [-0.092, 2.073], "y4", tickmode="array", tickvals=[0, 1, 2],
                      ticktext=C_TIMEPOINTS, tickangle=-30),
    yaxis4=plain_axis(ydom(15, 205), [-6.07, 0.107], "x4",
                      title="Top 10 tumor clone frequency<br>in peripheral blood", standoff=10,
                      type="log", tickmode="array", tickvals=C_TICKVALS, ticktext=C_TICKTEXT),
    xaxis5=plain_axis(xdom(609, 752), [-0.366, 1.378], "y5", tickmode="array", tickvals=[0, 1],
                      ticktext=D_CATS),
    yaxis5=plain_axis(ydom(12, 205), [-2.34, 4.27], "x5", title="Average log2(FC) between time points",
                      standoff=12, tickmode="array", tickvals=[-2, -1, 0, 1, 2, 3, 4]),
    xaxis6=plain_axis(xdom(389, 525), [-0.354, 1.367], "y6", tickmode="array", tickvals=[0, 1],
                      ticktext=F_CATS, tickangle=-30),
    yaxis6=plain_axis(ydom(520, 709), [0.029, 0.524], "x6", title="Fraction of TEC in patient blood",
                      standoff=10, tickmode="array", tickvals=[0.1, 0.2, 0.3, 0.4, 0.5]),
    xaxis7=plain_axis(xdom(613, 748), [-0.388, 2.367], "y7", tickmode="array", tickvals=[0, 1, 2],
                      ticktext=G_CATS, tickangle=-30),
    yaxis7=plain_axis(ydom(520, 709), [0.144, 0.728], "x7",
                      title="Similarity to tumor repertoire (BUB index)", standoff=13,
                      tickmode="array", tickvals=[0.2, 0.3, 0.4, 0.5, 0.6, 0.7]),
    annotations=annotations, shapes=shapes,
)

fig.write_html("out.html", config={"displayModeBar": False, "staticPlot": True},
               post_script="document.body.style.margin='0px';document.body.style.padding='0px';")
